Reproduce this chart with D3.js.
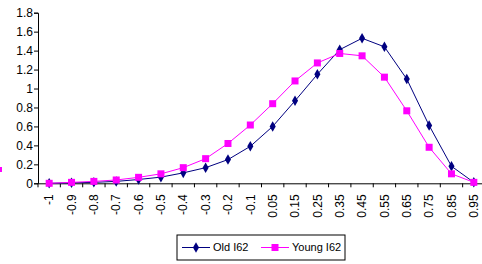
<!DOCTYPE html>
<html>
<head>
<meta charset="utf-8">
<script src="https://cdn.jsdelivr.net/npm/d3@7"></script>
<style>
  body { margin: 0; background: #fff; }
  svg { display: block; font-family: 'Liberation Sans', Arial, sans-serif; }
</style>
</head>
<body>
<div id="chart"></div>
<script>
// Categories along the x axis
var categories = ['-1', '-0.9', '-0.8', '-0.7', '-0.6', '-0.5', '-0.4', '-0.3', '-0.2', '-0.1',
                  '0.05', '0.15', '0.25', '0.35', '0.45', '0.55', '0.65', '0.75', '0.85', '0.95'];

// Series values
var oldValues = [0, 0.005, 0.01, 0.02, 0.04, 0.065, 0.11, 0.165, 0.25, 0.39,
                 0.6, 0.87, 1.15, 1.41, 1.53, 1.44, 1.1, 0.61, 0.18, 0.01];
var youngValues = [0, 0.01, 0.02, 0.035, 0.063, 0.1, 0.165, 0.26, 0.42, 0.615,
                   0.84, 1.08, 1.27, 1.37, 1.345, 1.12, 0.765, 0.38, 0.1, 0.01];

var yTicks = [0, 0.2, 0.4, 0.6, 0.8, 1, 1.2, 1.4, 1.6, 1.8];

var seriesNames = ['Old I62', 'Young I62'];

var width = 482, height = 264;
var margins = {left: 38, top: 12.7, bottom: 80.7};

var svg = d3.select('#chart').append('svg')
            .attr('width', width)
            .attr('height', height);

var x = d3.scaleBand()
          .domain(categories)
          .range([margins.left, margins.left + 22.35 * categories.length]);

var y = d3.scaleLinear()
          .domain([0, 1.8])
          .range([height - margins.bottom, margins.top]);

// y axis
var yAxis = d3.axisLeft(y)
              .tickValues(yTicks)
              .tickSize(4)
              .tickFormat(function(d) { return d3.format('')(d); });

var yg = svg.append('g')
            .attr('transform', 'translate(' + margins.left + ',0)')
            .call(yAxis);
yg.select('.domain').attr('stroke', '#000');
yg.selectAll('.tick line').attr('stroke', '#000');
yg.selectAll('.tick text')
  .attr('x', -5)
  .attr('font-size', 12)
  .attr('font-family', 'Liberation Sans, Arial, sans-serif')
  .attr('fill', '#000');

// x axis (ticks between categories)
var xAxis = d3.axisBottom(x).tickSize(0).tickSizeOuter(0);
var xg = svg.append('g')
            .attr('transform', 'translate(0,' + y(0) + ')')
            .call(xAxis);
xg.select('.domain').attr('stroke', '#000');
xg.selectAll('.tick text')
  .attr('transform', 'rotate(-90)')
  .attr('text-anchor', 'end')
  .attr('x', -11)
  .attr('y', 0)
  .attr('dy', '0.35em')
  .attr('font-size', 12)
  .attr('font-family', 'Liberation Sans, Arial, sans-serif')
  .attr('fill', '#000');

var bounds = categories.map(function(c) { return x(c); });
bounds.push(x.range()[1]);
xg.selectAll('line.band-tick')
  .data(bounds)
  .enter()
  .append('line')
  .classed('band-tick', true)
  .attr('x1', function(d) { return d; })
  .attr('x2', function(d) { return d; })
  .attr('y1', 0)
  .attr('y2', 4)
  .attr('stroke', '#000');

var cx = function(d, i) { return x(categories[i]) + x.bandwidth() / 2; };

var line = d3.line()
             .x(cx)
             .y(function(d) { return y(d); });

// Old series - navy with diamonds
svg.append('path')
   .attr('d', line(oldValues))
   .attr('fill', 'none')
   .attr('stroke', '#000080')
   .attr('stroke-width', 1);

// Young series - magenta with squares
svg.append('path')
   .attr('d', line(youngValues))
   .attr('fill', 'none')
   .attr('stroke', '#ff00ff')
   .attr('stroke-width', 1);

var diamond = d3.symbol().type(d3.symbolDiamond).size(32);

svg.append('g').selectAll('path')
   .data(oldValues)
   .enter()
   .append('path')
   .attr('d', diamond)
   .attr('transform', function(d, i) { return 'translate(' + cx(d, i) + ',' + y(d) + ')'; })
   .attr('fill', '#000080');

svg.append('g').selectAll('rect')
   .data(youngValues)
   .enter()
   .append('rect')
   .attr('x', function(d, i) { return cx(d, i) - 3.5; })
   .attr('y', function(d) { return y(d) - 3.5; })
   .attr('width', 7)
   .attr('height', 7)
   .attr('fill', '#ff00ff');

// small cropped fragment at left edge
svg.append('rect')
   .attr('x', 0).attr('y', 167).attr('width', 2).attr('height', 5)
   .attr('fill', '#ff00ff');

// Legend
var legend = svg.append('g').attr('transform', 'translate(177,235)');
legend.append('rect')
      .attr('width', 168)
      .attr('height', 25)
      .attr('fill', '#fff')
      .attr('stroke', '#000');

var legendItems = [
  {name: seriesNames[0], color: '#000080', x: 5, shape: 'diamond'},
  {name: seriesNames[1], color: '#ff00ff', x: 84, shape: 'square'}
];

legendItems.forEach(function(it) {
  var g = legend.append('g').attr('transform', 'translate(' + it.x + ',12.5)');
  g.append('line')
   .attr('x1', 0).attr('x2', 28)
   .attr('stroke', it.color);
  if (it.shape === 'diamond') {
    g.append('path').attr('d', diamond).attr('transform', 'translate(14,0)').attr('fill', it.color);
  } else {
    g.append('rect').attr('x', 10.5).attr('y', -3.5).attr('width', 7).attr('height', 7).attr('fill', it.color);
  }
  g.append('text')
   .attr('x', 31)
   .attr('dy', '0.35em')
   .attr('font-size', 11)
   .attr('fill', '#000')
   .text(it.name);
});
</script>
</body>
</html>
